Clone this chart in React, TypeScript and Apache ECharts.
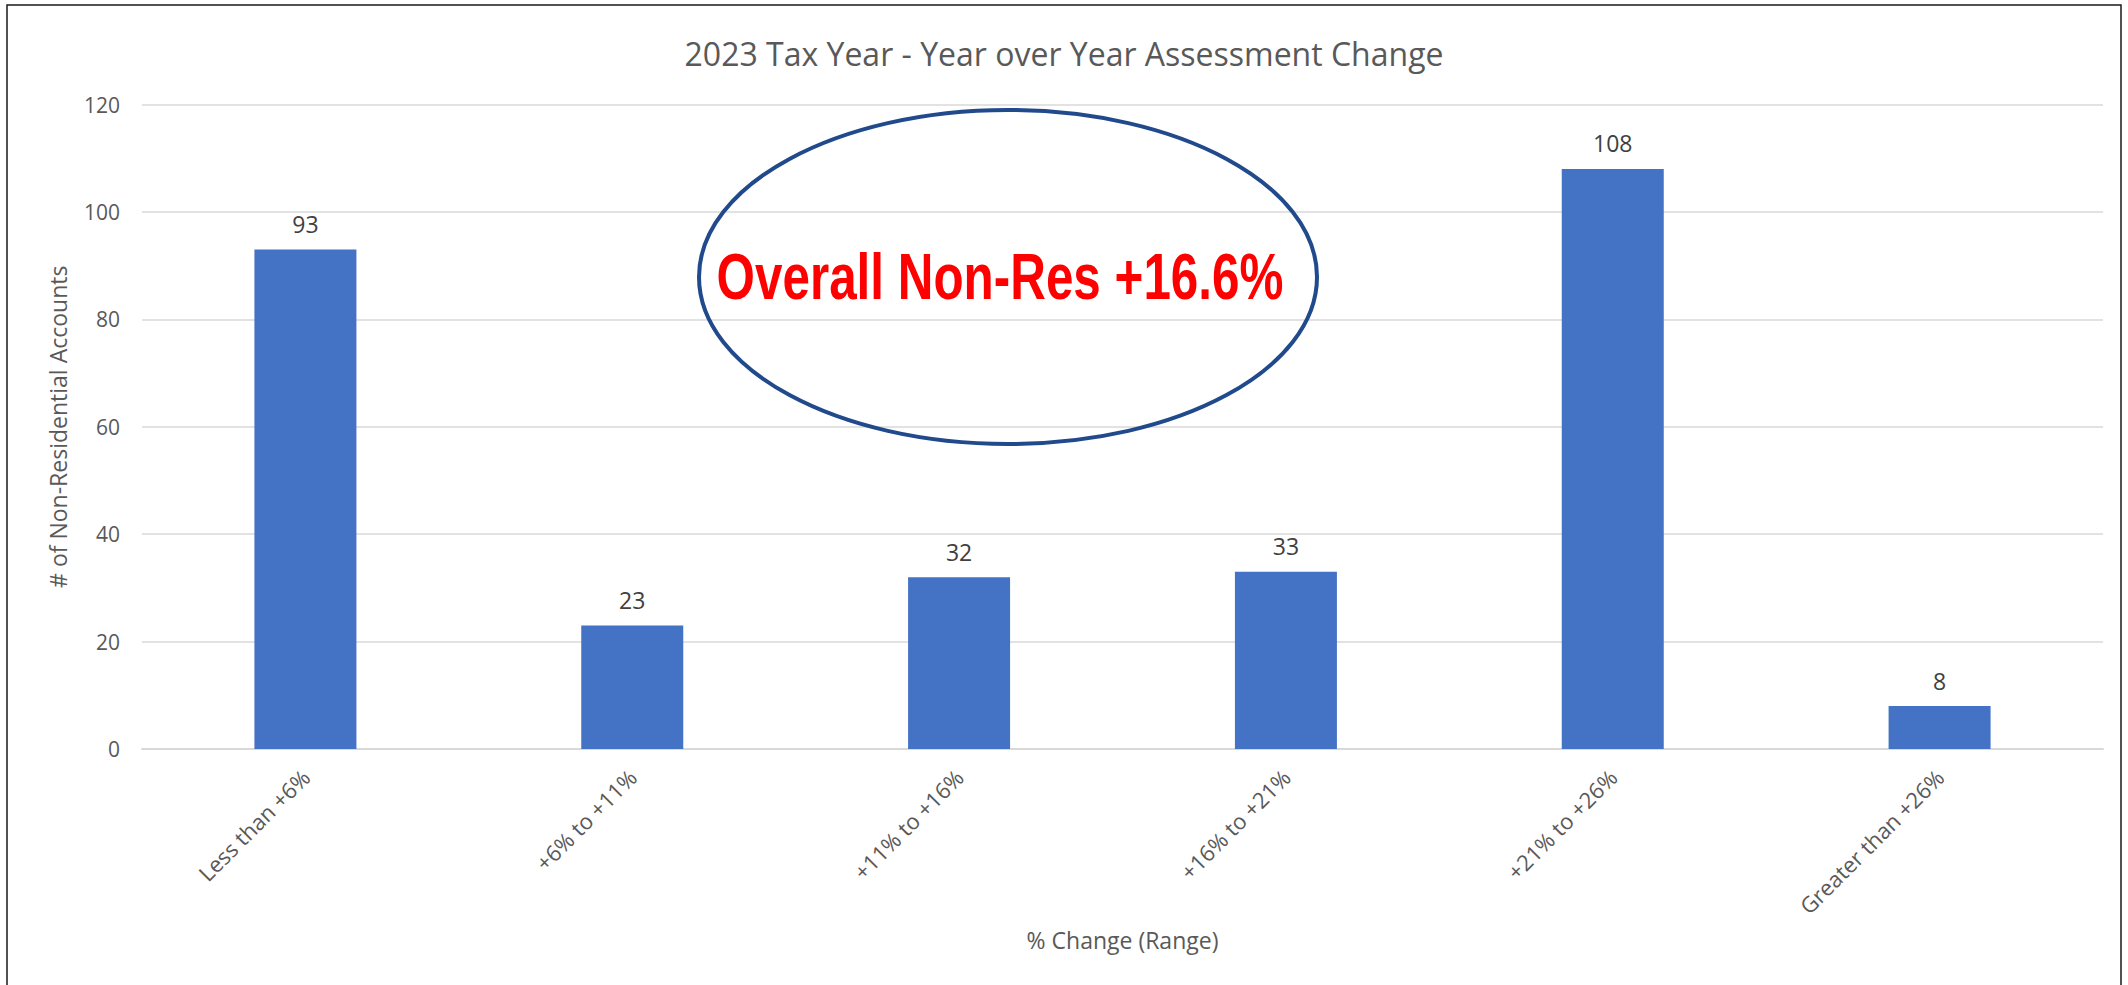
import React, { useEffect, useRef } from "react";
import * as echarts from "echarts";

const categories = [
  "Less than +6%",
  "+6% to +11%",
  "+11% to +16%",
  "+16% to +21%",
  "+21% to +26%",
  "Greater than +26%",
];
const accountCounts = [93, 23, 32, 33, 108, 8];
const yTicks = { min: 0, max: 120, interval: 20 };
const titleText = "2023 Tax Year - Year over Year Assessment Change";
const xAxisName = "% Change (Range)";
const yAxisName = "# of Non-Residential Accounts";
const calloutText = "Overall Non-Res +16.6%";

const FONT = "'Open Sans', 'Noto Sans', sans-serif";

export default function App() {
  const ref = useRef<HTMLDivElement>(null);
  useEffect(() => {
    if (!ref.current) return;
    const chart = echarts.init(ref.current, null, { renderer: "svg" });
    chart.setOption({
      animation: false,
      backgroundColor: "#ffffff",
      textStyle: { fontFamily: FONT },
      title: {
        text: titleText,
        left: "center",
        top: 32,
        textStyle: {
          fontFamily: FONT,
          fontSize: 32,
          fontWeight: "normal",
          color: "#595959",
        },
      },
      grid: { left: 142, right: 25, top: 104.5, bottom: 236 },
      xAxis: {
        type: "category",
        data: categories,
        name: xAxisName,
        nameLocation: "middle",
        nameGap: 179,
        nameTextStyle: { fontFamily: FONT, fontSize: 23, color: "#595959" },
        axisLine: { show: true, lineStyle: { color: "#D9D9D9", width: 2 } },
        axisTick: { show: false },
        axisLabel: {
          rotate: 45,
          interval: 0,
          margin: 24,
          fontFamily: FONT,
          fontSize: 22,
          color: "#595959",
        },
      },
      yAxis: {
        type: "value",
        min: yTicks.min,
        max: yTicks.max,
        interval: yTicks.interval,
        name: yAxisName,
        nameLocation: "middle",
        nameGap: 73,
        nameTextStyle: { fontFamily: FONT, fontSize: 23, color: "#595959" },
        axisLine: { show: false },
        axisTick: { show: false },
        axisLabel: {
          margin: 22,
          fontFamily: FONT,
          fontSize: 21,
          color: "#595959",
        },
        splitLine: { lineStyle: { color: "#D9D9D9", width: 1.5 } },
      },
      series: [
        {
          type: "bar",
          data: accountCounts,
          barWidth: 102,
          itemStyle: { color: "#4472C4" },
          label: {
            show: true,
            position: "top",
            distance: 14,
            fontFamily: FONT,
            fontSize: 23,
            color: "#404040",
          },
        },
      ],
      graphic: [
        {
          type: "rect",
          shape: { x: 7, y: 5, width: 2114, height: 1000 },
          style: { fill: "none", stroke: "#1a1a1a", lineWidth: 1.5 },
          silent: true,
        },
        {
          type: "ellipse",
          shape: { cx: 1008, cy: 277, rx: 309, ry: 167 },
          style: { fill: "none", stroke: "#204A8C", lineWidth: 4 },
          z: 10,
          silent: true,
        },
        {
          type: "text",
          x: 1000,
          y: 276,
          scaleX: 0.76,
          z: 11,
          style: {
            text: calloutText,
            fontFamily: "'Liberation Sans', Arial, sans-serif",
            fontWeight: "bold",
            fontSize: 65,
            fill: "#FF0000",
            textAlign: "center",
            textVerticalAlign: "middle",
          },
          silent: true,
        },
      ],
    });
    return () => chart.dispose();
  }, []);
  return (
    <div
      ref={ref}
      style={{ position: "fixed", left: 0, top: 0, width: 2128, height: 985 }}
    />
  );
}
